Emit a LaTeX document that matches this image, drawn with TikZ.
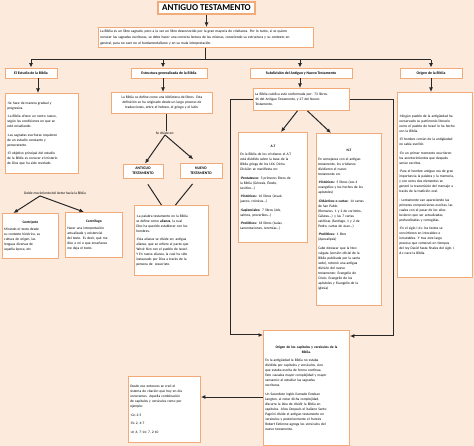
\documentclass[tikz,border=0pt]{standalone}
\usepackage{fontspec}
\setmainfont{Carlito}
\usetikzlibrary{arrows.meta}
\definecolor{bgc}{RGB}{252,235,221}
\definecolor{boxor}{RGB}{242,170,120}
\definecolor{lnc}{RGB}{40,40,40}
\newcommand\txtsz{\fontsize{3.55}{5}\selectfont}
\newcommand\pgap{\\[3.5pt]}
\newcommand\ctr[1]{\makebox[\linewidth]{\textbf{#1}}}
\tikzset{
  box/.style={draw=boxor, fill=white, line width=0.9pt, inner sep=1.8pt, anchor=north west, font=\txtsz, align=left},
  hbox/.style={draw=boxor, fill=white, line width=0.9pt, inner sep=1pt, font=\fontsize{3.8}{4.8}\selectfont\bfseries, align=center},
  tbox/.style={draw=boxor, fill=white, line width=1.2pt, inner sep=1pt, font=\fontsize{9}{10}\selectfont\bfseries},
  arr/.style={-{Latex[length=4.5pt,width=4pt]}, line width=1pt, draw=lnc},
  ln/.style={line width=1pt, draw=lnc},
  txt/.style={font=\txtsz, inner sep=0.5pt}
}
\begin{document}
\begin{tikzpicture}[x=1pt,y=-1pt]
\fill[bgc] (0,0) rectangle (474,446);
\useasboundingbox (0,0) rectangle (474,446);

% title and intro
\node[tbox, minimum width=97pt, minimum height=12pt] (title) at (206.5,8) {ANTIGUO TESTAMENTO};
\node[box, text width=211.4pt, minimum height=20pt, font=\fontsize{3.6}{6}\selectfont] (intro) at (98,27) {La Biblia es un libro sagrado, pero a la vez un libro desconocido por la gran mayoría de cristianos. Por lo tanto, si se quiere\\conocer las sagradas escrituras, se debe hacer una correcta lectura de las mismas, conociendo su estructura y su contexto en\\general, para no caer en el fundamentalismo y en su mala interpretación.};

% headers
\node[hbox, minimum width=52pt, minimum height=10pt] (head1) at (31,73) {El Estudio de la Biblia};
\node[hbox, minimum width=76pt, minimum height=10pt] (head2) at (169,73) {Estructura generalizada de la Biblia};
\node[hbox, minimum width=102pt, minimum height=10pt] (head3) at (301,73) {Subdivisión del Antiguo y Nuevo Testamento};
\node[hbox, minimum width=62pt, minimum height=10pt] (head4) at (431,73) {Origen de la Biblia};

\coordinate (c1) at (31,60);
\coordinate (c2) at (163,60);
\coordinate (c3) at (300,60);
\coordinate (c4) at (431,60);

% column 1
\node[box, text width=69.4pt, minimum height=80pt] (study) at (5,93) {-Se hace de manera gradual y\\progresiva.\pgap -La Biblia ofrece un rostro nuevo,\\según las condiciones en que se\\esté estudiando.\pgap -Las sagradas escrituras requieren\\de un estudio constante y\\perseverante.\pgap -El objetivo principal del estudio\\de la Biblia es conocer el misterio\\de Dios que ha sido revelado.};
\node[txt] (dbl) at (55,193) {Doble movimiento del lector hacia la Biblia};
\node[box, text width=52.4pt, minimum height=45pt] (centri) at (2,213) {\ctr{Centrípeto}\\[2pt]Mirando el texto desde\\su contexto histórico, su\\cultura de origen, las\\lenguas diversas de\\aquella época, etc};
\node[box, text width=53.4pt, minimum height=45pt] (centrif) at (65,212) {\ctr{Centrífugo}\\[2pt]Hacer una interpretación\\actualizada y existencial\\del texto. Es decir, qué me\\dice a mí o que enseñanza\\me deja el texto.};

% column 2
\node[box, text width=97.4pt, minimum height=21pt, align=center] (def) at (111,92) {La Biblia se define como una biblioteca de libros. Esta\\definición se ha originado desde un largo proceso de\\traducciones, entre el hebreo, el griego y el latín.};
\node[txt] (divide) at (165,133) {Se divide en:};
\node[hbox, minimum width=40pt, minimum height=14pt] (ant) at (143,171) {ANTIGUO\\TESTAMENTO};
\node[hbox, minimum width=42pt, minimum height=15pt] (nue) at (201,170.5) {NUEVO\\TESTAMENTO};
\node[box, text width=70.4pt, minimum height=70pt] (testa) at (134,205) {-La palabra testamento en la Biblia\\se define como \textbf{alianza}, la cual\\Dios ha querido establecer con los\\hombres.\pgap -Esta alianza se divide en; antigua\\alianza, que se refiere al pacto que\\Yahvé hizo con el pueblo de Israel.\\Y En nueva alianza, la cual ha sido\\instaurado por Dios a través de la\\persona de~~Jesucristo.};

% column 3
\node[box, text width=92.4pt, minimum height=22pt] (catol) at (253,88) {La Biblia católica está conformada por: 73 libros.\\46 del Antiguo Testamento, y 27 del Nuevo\\Testamento.};
\node[box, text width=65.4pt, minimum height=110pt] (atb) at (238,132) {\ctr{A.T}\pgap En la Biblia de los cristianos el A.T\\está dividido sobre la base de la\\Biblia griega de los LXX. Dicha\\División se manifiesta en:\pgap -\textbf{Pentateuco:} 5 primeros libros de\\la Biblia (Génesis, Éxodo,\\Levítico...)\pgap -\textbf{Históricos:} 16 libros (Josué,\\jueces, crónicas...)\pgap -\textbf{Sapienciales:} 7 libros (Job,\\salmos, proverbios...)\pgap -\textbf{Proféticos:} 18 libros (Isaías,\\Lamentaciones, Jeremías...)};
\node[box, text width=61.4pt, minimum height=172pt] (ntb) at (316,133) {\ctr{N.T}\pgap En semejanza con el antiguo\\testamento, los cristianos\\dividieron el nuevo\\testamento en:\pgap -\textbf{Históricos:} 5 libros (Los 4\\evangelios y los hechos de los\\apóstoles)\pgap -\textbf{Didácticos o cartas:} 14 cartas\\de San Pablo\\(Romanos, 1 y 2 de corintios,\\Gálatas...) y las 7 cartas\\católicas (Santiago, 1 y 2 de\\Pedro, cartas de Juan...)\pgap -\textbf{Proféticos:} 1 libro\\(Apocalipsis)\pgap Cabe destacar que la Neo-\\vulgata (versión oficial de la\\Biblia publicada por la santa\\sede), retomó una antigua\\división del nuevo\\testamento: Evangelio de\\Cristo, Evangelio de los\\apóstoles y Evangelio de la\\iglesia)};

% column 4
\node[box, text width=71.4pt, minimum height=185pt] (orig) at (397,92) {-Ningún pueblo de la antigüedad ha\\conservado su patrimonio literario\\como el pueblo de Israel lo ha hecho\\con la Biblia.\pgap -El hombre común de la antigüedad\\no sabía escribir.\pgap -En un primer momento ocurrieron\\los acontecimientos que después\\serían escritos.\pgap -Para el hombre antiguo era de gran\\importancia la palabra y la memoria,\\y con estos dos elementos se\\generó la transmisión del mensaje a\\través de la tradición oral.\pgap - Lentamente van apareciendo las\\primeras composiciones escritas, las\\cuales con el pasar de los años\\tuvieron que ser actualizadas,\\profundizadas y corregidas.\pgap -En el siglo I d.c los textos se\\convirtieron en intocables e\\inmutables. Y tras este largo\\proceso que comenzó en tiempos\\del rey David hasta finales del siglo I\\d.c nace la Biblia.};

% bottom
\node[box, text width=82.4pt, minimum height=115pt] (chap) at (263,330) {\ctr{Origen de los capítulos y versículos de la}\\\ctr{Biblia.}\pgap En la antigüedad la Biblia no estaba\\dividida por capítulos y versículos, sino\\que estaba escrita de forma continua.\\Esto causaba mayor complejidad y mayor\\cansancio al estudiar las sagradas\\escrituras.\pgap Un Sacerdote inglés llamado Esteban\\Langton, al notar dicha complejidad,\\discurre la idea de dividir la Biblia en\\capítulos. Años Después el italiano Santo\\Pagnini divide el antiguo testamento en\\versículos y posteriormente el francés\\Robert Estienne agrega los versículos del\\nuevo testamento.};
\node[box, text width=68.4pt, minimum height=66pt] (cita) at (128,376) {Desde ese entonces se creó el\\sistema de citación que hoy en día\\conocemos. Aquella combinación\\de capítulos y versículos como por\\ejemplo:\pgap -Gn 2-5\pgap -Ex 2, 4-7\pgap -Jn 6, 7-14; 7, 2-10};

% connectors top
\draw[arr] (title.south) -- (title.south |- intro.north);
\draw[ln] (intro.south) -- (intro.south |- c1);
\draw[ln] (c1) -- (c4);
\draw[arr] (c1) -- (c1 |- head1.north);
\draw[arr] (c2) -- (c2 |- head2.north);
\draw[arr] (c3) -- (c3 |- head3.north);
\draw[arr] (c4) -- (c4 |- head4.north);

% header to content
\coordinate (d1) at (38,0);
\draw[arr] (d1 |- head1.south) -- (d1 |- study.north);
\draw[arr] (c2 |- head2.south) -- (c2 |- def.north);
\draw[arr] (c3 |- head3.south) -- (c3 |- catol.north);
\draw[arr] (c4 |- head4.south) -- (c4 |- orig.north);

% column 1 connectors
\draw[arr] ([xshift=-15pt,yshift=-1pt]dbl.south) -- ([xshift=-17pt]centri.north);
\draw[arr] ([xshift=-15pt,yshift=-1pt]dbl.south) -- ([xshift=-10pt]centrif.north);

% column 2 connectors
\coordinate (d2) at (166,0);
\draw[ln] (d2 |- def.south) -- (d2 |- divide.north);
\draw[arr] (divide.south) -- ([xshift=2pt]ant.north);
\draw[arr, shorten >=5pt] (divide.south) -- ([xshift=-4pt]nue.north);
\draw[ln, shorten <=7pt] ([xshift=1pt]ant.south) -- ([xshift=-10pt]testa.north);
\draw[ln, shorten <=7pt] ([xshift=-4pt]nue.south) -- ([xshift=4pt]testa.north);

% column 3 connectors
\draw[arr] ([xshift=-4pt]catol.south) -- ([xshift=8pt]atb.north);
\draw[arr] ([xshift=6pt]catol.south) -- ([xshift=-18pt]ntb.north);
\coordinate (lc) at (230,335);
\coordinate (rc) at (393,336);
\draw[arr] (catol.west) -| (lc) -- (lc -| chap.west);
\draw[arr] (catol.east) -| (rc) -- (rc -| chap.east);
\coordinate (cy) at (240,397);
\draw[arr] (cy -| chap.west) -- (cy -| cita.east);
\end{tikzpicture}
\end{document}
